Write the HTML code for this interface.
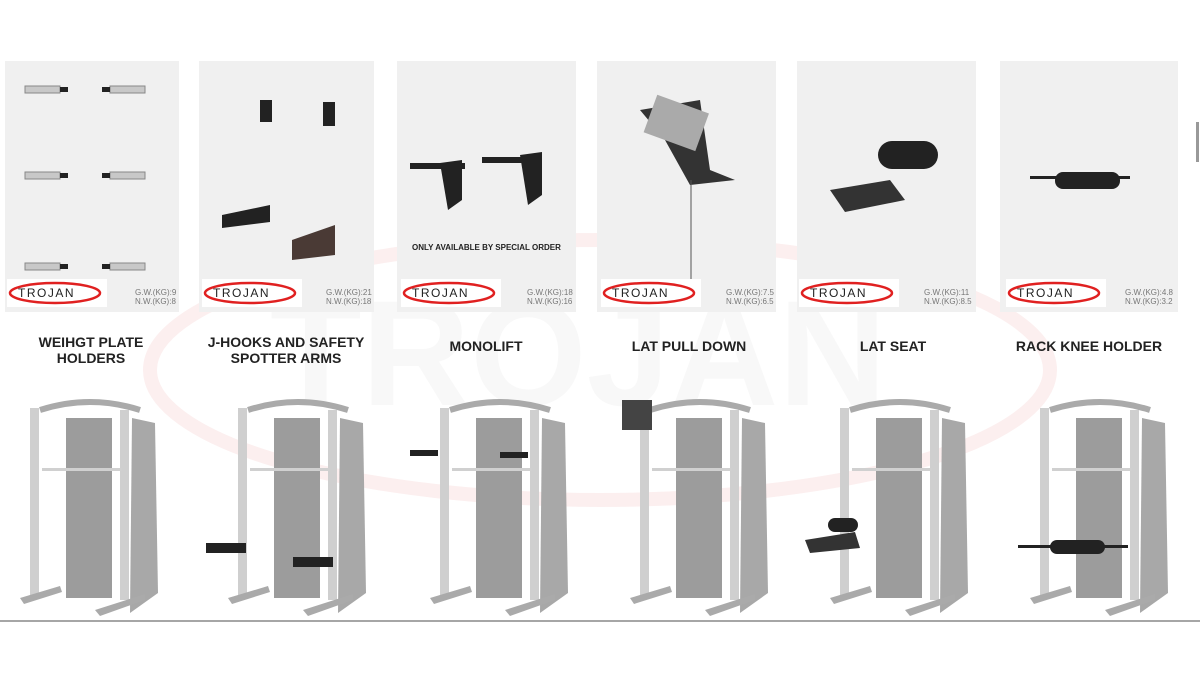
<!DOCTYPE html>
<html><head><meta charset="utf-8"><style>
body{margin:0;width:1200px;height:675px;background:#fff;position:relative;overflow:hidden;font-family:"Liberation Sans",sans-serif}
.p{position:absolute;top:61px;height:251px;background:#f0f0f0}
.w{position:absolute;font-size:8px;line-height:9px;color:#777;text-align:left}
.t{position:absolute;font-weight:bold;font-size:14px;color:#222;text-align:center;line-height:16px;width:180px}
.abs{position:absolute;left:0;top:0}
</style></head><body>
<svg class="abs" width="1200" height="675">
<ellipse cx="600" cy="370" rx="450" ry="130" fill="none" stroke="#fcefef" stroke-width="14"/>
<text x="270" y="405" font-size="150" font-family="Liberation Sans" fill="#f8f8f8" font-weight="bold">TROJAN</text>
</svg>
<div class="p" style="left:5px;width:174px"></div>
<div class="p" style="left:199px;width:175px"></div>
<div class="p" style="left:397px;width:179px"></div>
<div class="p" style="left:597px;width:179px"></div>
<div class="p" style="left:797px;width:179px"></div>
<div class="p" style="left:1000px;width:178px"></div>
<div style="position:absolute;left:1196px;top:122px;width:3px;height:40px;background:#999"></div>
<svg class="abs" width="1200" height="675">
<defs>
<g id="logo">
<rect width="100" height="28" fill="#fff"/>
<ellipse cx="48" cy="14" rx="45" ry="10" fill="none" stroke="#e02020" stroke-width="2.5"/>
<text x="11" y="18" font-size="12" font-family="Liberation Sans" fill="#222" letter-spacing="1.5">TROJAN</text>
</g>
<g id="m">
<path d="M20 12 Q70 -4 120 12" stroke="#aaa" stroke-width="6" fill="none"/>
<rect x="10" y="10" width="9" height="190" fill="#cfcfcf"/>
<rect x="46" y="20" width="46" height="180" fill="#9c9c9c"/>
<rect x="100" y="12" width="9" height="190" fill="#cfcfcf"/>
<path d="M112 20 L135 25 L138 195 L110 215 L112 20Z" fill="#a8a8a8"/>
<rect x="22" y="70" width="80" height="3" fill="#d0d0d0"/>
<path d="M0 200 L40 188 L42 194 L4 206Z" fill="#aaa"/>
<path d="M75 212 L125 196 L125 202 L80 218Z" fill="#aaa"/>
</g>
</defs>
<g fill="#c8c8c8" stroke="#888">
<rect x="25" y="86" width="35" height="7"/><rect x="110" y="86" width="35" height="7"/>
<rect x="25" y="172" width="35" height="7"/><rect x="110" y="172" width="35" height="7"/>
<rect x="25" y="263" width="35" height="7"/><rect x="110" y="263" width="35" height="7"/>
</g>
<g fill="#222">
<rect x="60" y="87" width="8" height="5"/><rect x="102" y="87" width="8" height="5"/>
<rect x="60" y="173" width="8" height="5"/><rect x="102" y="173" width="8" height="5"/>
<rect x="60" y="264" width="8" height="5"/><rect x="102" y="264" width="8" height="5"/>
<rect x="260" y="100" width="12" height="22"/><rect x="323" y="102" width="12" height="24"/>
<path d="M222 215 L270 205 L270 222 L222 228Z"/><path d="M292 240 L335 225 L335 255 L292 260Z" fill="#4a3a35"/>
<rect x="410" y="163" width="55" height="6"/><path d="M440 163 L462 160 L462 200 L448 210Z"/>
<rect x="482" y="157" width="55" height="6"/><path d="M520 155 L542 152 L542 195 L528 205Z"/>
<path d="M640 110 L700 100 L710 170 L735 180 L690 185 L665 140Z" fill="#333"/>
<rect x="650" y="104" width="55" height="40" fill="#aaa" transform="rotate(20 680 120)"/>
<line x1="691" y1="180" x2="691" y2="280" stroke="#555"/>
<rect x="878" y="141" width="60" height="28" rx="14"/>
<path d="M830 190 L890 180 L905 200 L845 212Z" fill="#333"/>
<rect x="1055" y="172" width="65" height="17" rx="8"/>
<rect x="1030" y="176" width="100" height="3"/>
</g>
<use href="#logo" x="7" y="279"/><use href="#logo" x="202" y="279"/><use href="#logo" x="401" y="279"/>
<use href="#logo" x="601" y="279"/><use href="#logo" x="799" y="279"/><use href="#logo" x="1006" y="279"/>
<use href="#m" x="20" y="398"/>
<use href="#m" x="228" y="398"/>
<use href="#m" x="430" y="398"/>
<use href="#m" x="630" y="398"/>
<use href="#m" x="830" y="398"/>
<use href="#m" x="1030" y="398"/>
<g fill="#222">
<rect x="206" y="543" width="40" height="10"/><rect x="293" y="557" width="40" height="10"/>
<rect x="410" y="450" width="28" height="6"/><rect x="500" y="452" width="28" height="6"/>
<rect x="622" y="400" width="30" height="30" fill="#444"/>
<rect x="828" y="518" width="30" height="14" rx="7"/><path d="M805 540 L855 532 L860 548 L810 553Z" fill="#333"/>
<rect x="1050" y="540" width="55" height="14" rx="7"/><rect x="1018" y="545" width="110" height="3"/>
</g>
<line x1="0" y1="621" x2="1200" y2="621" stroke="#888" stroke-width="1.5"/>
</svg>
<div class="w" style="left:135px;top:288px">G.W.(KG):9<br>N.W.(KG):8</div>
<div class="w" style="left:326px;top:288px">G.W.(KG):21<br>N.W.(KG):18</div>
<div class="w" style="left:527px;top:288px">G.W.(KG):18<br>N.W.(KG):16</div>
<div class="w" style="left:726px;top:288px">G.W.(KG):7.5<br>N.W.(KG):6.5</div>
<div class="w" style="left:924px;top:288px">G.W.(KG):11<br>N.W.(KG):8.5</div>
<div class="w" style="left:1125px;top:288px">G.W.(KG):4.8<br>N.W.(KG):3.2</div>
<div style="position:absolute;left:412px;top:243px;font-size:8px;font-weight:bold;color:#222">ONLY AVAILABLE BY SPECIAL ORDER</div>
<div class="t" style="left:1px;top:334px">WEIHGT PLATE<br>HOLDERS</div>
<div class="t" style="left:196px;top:334px">J-HOOKS AND SAFETY<br>SPOTTER ARMS</div>
<div class="t" style="left:396px;top:338px">MONOLIFT</div>
<div class="t" style="left:599px;top:338px">LAT PULL DOWN</div>
<div class="t" style="left:803px;top:338px">LAT SEAT</div>
<div class="t" style="left:999px;top:338px">RACK KNEE HOLDER</div>
</body></html>
